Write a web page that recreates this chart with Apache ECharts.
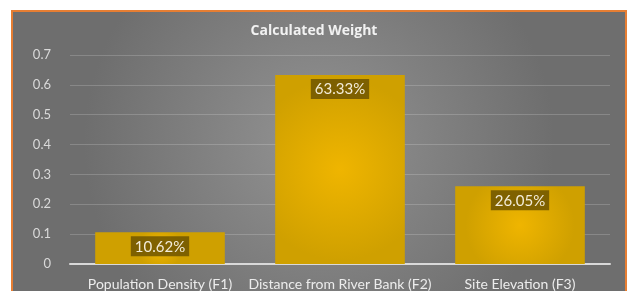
<!DOCTYPE html>
<html>
<head>
<meta charset="utf-8">
<script src="https://cdn.jsdelivr.net/npm/echarts@6/dist/echarts.min.js"></script>
<style>
html,body{margin:0;padding:0;background:#fff;}
#c{width:628px;height:291px;}
</style>
</head>
<body>
<div id="c"></div>
<script>
const titleText = 'Calculated Weight';
const categories = ['Population Density (F1)', 'Distance from River Bank (F2)', 'Site Elevation (F3)'];
const weights = [0.1062, 0.6333, 0.2605];
const yTicks = { min: 0, max: 0.7, interval: 0.1 };

const chart = echarts.init(document.getElementById('c'), null, { renderer: 'canvas' });
const font = 'Lato, "Open Sans", sans-serif';
chart.setOption({
  backgroundColor: '#ffffff',
  animation: false,
  graphic: [{
    type: 'rect', z: -10, silent: true,
    shape: { x: 12, y: 11, width: 614, height: 292 },
    style: {
      fill: new echarts.graphic.RadialGradient(0.5, 0.45, 0.8, [
        { offset: 0, color: '#939393' },
        { offset: 1, color: '#6e6e6e' }
      ]),
      stroke: '#E67E33', lineWidth: 2
    }
  }],
  title: {
    text: titleText, left: 'center', top: 19,
    textStyle: { color: '#f2f2f2', fontSize: 14, fontWeight: 'bold', fontFamily: '"Open Sans", sans-serif' }
  },
  grid: { left: 70, right: 18, top: 55, bottom: 27, containLabel: false },
  xAxis: {
    type: 'category', data: categories,
    axisLine: { lineStyle: { color: '#d9d9d9', width: 2 } },
    axisTick: { show: false },
    axisLabel: { color: '#ececec', fontSize: 14, fontFamily: font, interval: 0, margin: 13 }
  },
  yAxis: {
    type: 'value', min: yTicks.min, max: yTicks.max, interval: yTicks.interval,
    axisLine: { show: false }, axisTick: { show: false },
    axisLabel: { color: '#d9d9d9', fontSize: 13, fontFamily: font, margin: 19 },
    splitLine: { lineStyle: { color: 'rgba(255,255,255,0.18)', width: 1 } }
  },
  series: [{
    type: 'bar', data: weights, barCategoryGap: '28%',
    itemStyle: {
      color: new echarts.graphic.RadialGradient(0.5, 0.5, 0.7, [
        { offset: 0, color: '#EFB500' },
        { offset: 1, color: '#CFA000' }
      ])
    },
    label: {
      show: true, position: 'insideTop', distance: 4,
      formatter: p => (p.value * 100).toFixed(2) + '%',
      color: '#f3ecd8', fontSize: 15, fontFamily: font,
      backgroundColor: 'rgba(110,85,0,0.85)', padding: [3, 4, 2, 4]
    }
  }]
});
</script>
</body>
</html>
